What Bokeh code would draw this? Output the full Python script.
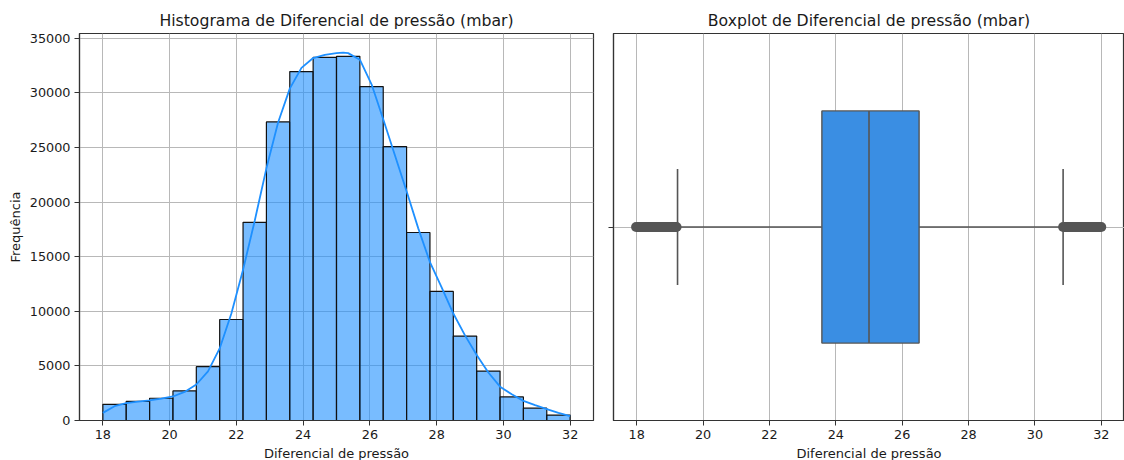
from bokeh.plotting import figure
from bokeh.layouts import row
from bokeh.models import Range1d, FixedTicker
from bokeh.embed import file_html
from bokeh.resources import INLINE

# Histogram of the pressure differential (20 bins, 18 to 32 mbar)
bin_edges = [18.0, 18.7, 19.4, 20.1, 20.8, 21.5, 22.2, 22.9, 23.6, 24.3, 25.0,
             25.7, 26.4, 27.1, 27.8, 28.5, 29.2, 29.9, 30.6, 31.3, 32.0]
counts = [1480, 1760, 2040, 2710, 4930, 9250, 18150, 27350, 31960, 33260,
          33360, 30590, 25090, 17220, 11820, 7730, 4530, 2160, 1125, 500]

# Kernel density estimate, scaled to counts
kde_x = [18.0, 18.35, 18.7, 19.05, 19.4, 19.75, 20.1, 20.45, 20.8, 21.15,
         21.5, 21.85, 22.2, 22.55, 22.9, 23.25, 23.6, 23.95, 24.3, 24.65,
         25.0, 25.2, 25.35, 25.7, 26.05, 26.4, 26.75, 27.1, 27.45, 27.8,
         28.15, 28.5, 28.85, 29.2, 29.55, 29.9, 30.25, 30.6, 30.95, 31.3,
         31.65, 32.0]
kde_y = [700, 1310, 1600, 1720, 1840, 2000, 2200, 2620, 3300, 4500,
         6600, 9800, 13800, 18300, 23100, 27300, 30400, 32300, 33200, 33500,
         33650, 33700, 33650, 33050, 30800, 27600, 24300, 21000, 17600, 14500,
         12200, 9800, 7800, 6000, 4400, 3100, 2400, 1800, 1400, 1050,
         700, 400]

# Boxplot summary
q1, median, q3 = 23.58, 25.0, 26.51
whisker_low, whisker_high = 19.23, 30.85
outliers_low = [17.98, 19.2]
outliers_high = [30.85, 32.0]

x_ticks = [18, 20, 22, 24, 26, 28, 30, 32]
y_ticks = [0, 5000, 10000, 15000, 20000, 25000, 30000, 35000]

FONT = "DejaVu Sans"
TEXT = "#1a1a1a"
SPINE = "#333333"
GRID = "#b8b8b8"


def style(p, xlabel, ylabel):
    p.title.align = "center"
    p.title.text_font = FONT
    p.title.text_font_size = "15.7px"
    p.title.text_font_style = "normal"
    p.title.text_color = TEXT
    p.title.standoff = 8
    p.outline_line_color = SPINE
    p.outline_line_width = 1.2
    for ax in (p.xaxis, p.yaxis):
        ax.axis_line_color = SPINE
        ax.axis_line_width = 1.2
        ax.major_tick_line_color = SPINE
        ax.major_tick_in = 0
        ax.major_tick_out = 5
        ax.minor_tick_line_color = None
        ax.major_label_text_font = FONT
        ax.major_label_text_font_size = "12.8px"
        ax.major_label_text_color = TEXT
        ax.axis_label_text_font = FONT
        ax.axis_label_text_font_size = "13px"
        ax.axis_label_text_font_style = "normal"
        ax.axis_label_text_color = TEXT
        ax.major_label_standoff = 4
        ax.axis_label_standoff = 4
    p.xaxis.axis_label = xlabel
    p.yaxis.axis_label = ylabel
    p.xaxis.ticker = FixedTicker(ticks=x_ticks)
    p.grid.grid_line_color = GRID
    p.grid.grid_line_width = 1


# Left: histogram with KDE
p1 = figure(frame_width=514, frame_height=387, output_backend="svg",
            toolbar_location=None, min_border_left=79, min_border_right=10,
            min_border_top=33, min_border_bottom=40,
            x_range=Range1d(17.3, 32.7), y_range=Range1d(0, 35450),
            title="Histograma de Diferencial de pressão (mbar)")
style(p1, "Diferencial de pressão", "Frequência")
p1.yaxis.ticker = FixedTicker(ticks=y_ticks)
p1.quad(left=bin_edges[:-1], right=bin_edges[1:], bottom=0, top=counts,
        fill_color="#1e90ff", fill_alpha=0.6,
        line_color="#111111", line_width=1.2)
p1.line(kde_x, kde_y, line_color="#1e90ff", line_width=1.8)

# Right: horizontal boxplot
p2 = figure(frame_width=511, frame_height=387, output_backend="svg",
            toolbar_location=None, min_border_left=10, min_border_right=0,
            min_border_top=33, min_border_bottom=40,
            x_range=Range1d(17.3, 32.7), y_range=Range1d(-0.5, 0.5),
            title="Boxplot de Diferencial de pressão (mbar)")
style(p2, "Diferencial de pressão", None)
p2.yaxis.ticker = FixedTicker(ticks=[0])
p2.yaxis.major_label_overrides = {0: ""}
p2.yaxis.major_label_standoff = 0

BOX_LINE = "#555555"
p2.segment(x0=[whisker_low, q3], y0=[0, 0], x1=[q1, whisker_high], y1=[0, 0],
           line_color=BOX_LINE, line_width=1.6)
p2.segment(x0=[whisker_low, whisker_high], y0=[-0.15, -0.15],
           x1=[whisker_low, whisker_high], y1=[0.15, 0.15],
           line_color=BOX_LINE, line_width=1.6)
p2.quad(left=[q1], right=[q3], bottom=[-0.3], top=[0.3],
        fill_color="#3a8ee3", line_color=BOX_LINE, line_width=1.4)
p2.segment(x0=[median], y0=[-0.3], x1=[median], y1=[0.3],
           line_color=BOX_LINE, line_width=1.6)
p2.line(outliers_low, [0, 0], line_color=BOX_LINE, line_width=10, line_cap="round")
p2.line(outliers_high, [0, 0], line_color=BOX_LINE, line_width=10, line_cap="round")

layout = row(p1, p2)
open("out.html", "w").write(file_html(layout, INLINE))
